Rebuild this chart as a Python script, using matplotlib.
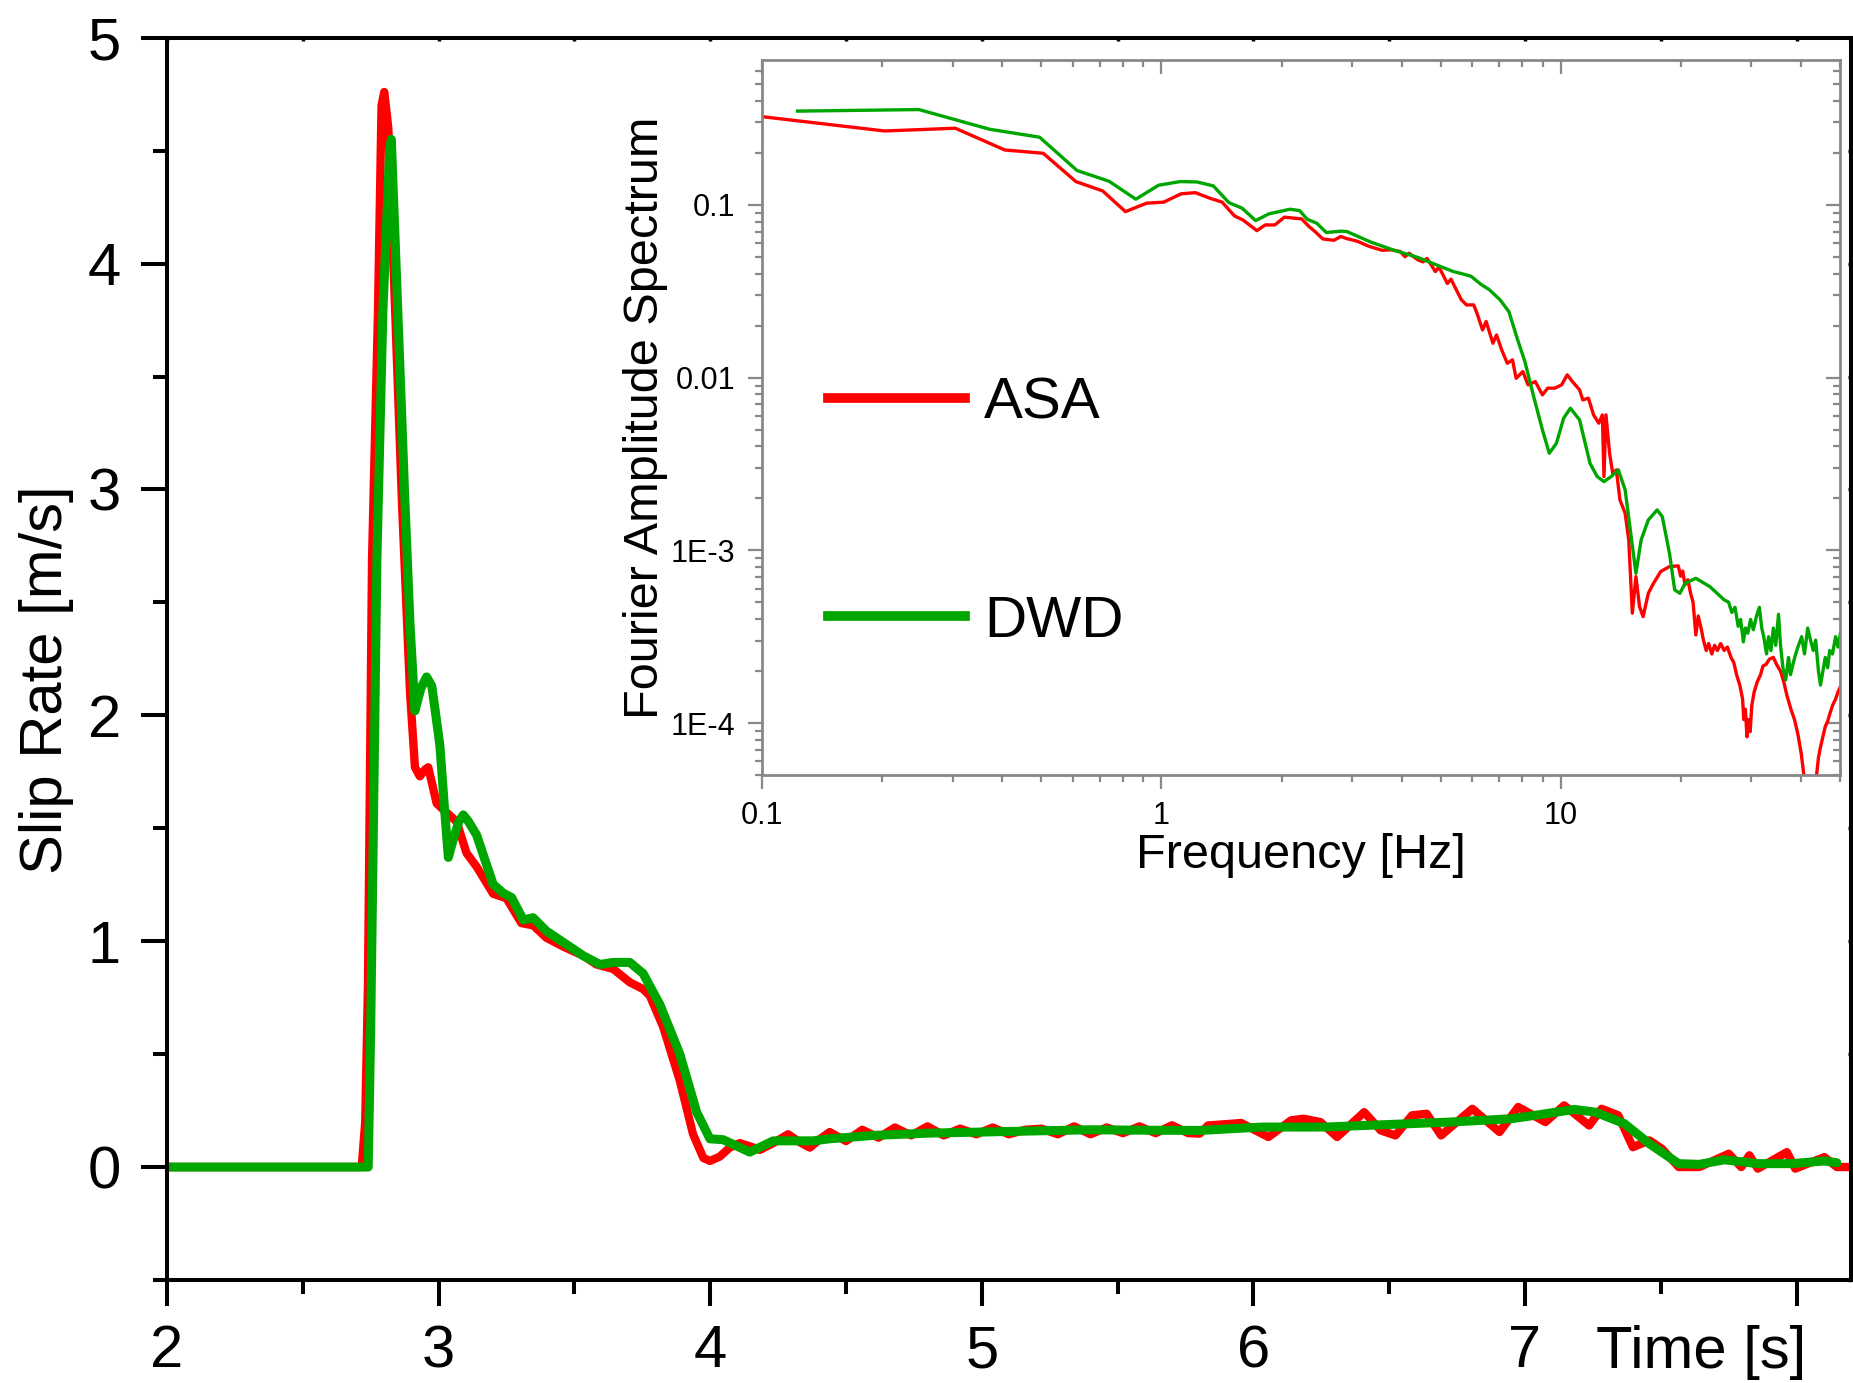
import numpy as np
import matplotlib
matplotlib.use("Agg")
import matplotlib.pyplot as plt
from matplotlib.ticker import MultipleLocator, FixedLocator, FixedFormatter, LogLocator, NullFormatter

plt.rcParams['font.family'] = ['Liberation Sans', 'DejaVu Sans']

# slip rate time histories (time [s], slip rate [m/s])
asa_t = [2.0, 2.717, 2.73, 2.74, 2.755, 2.777, 2.79, 2.80, 2.815, 2.84, 2.865, 2.895,
         2.913, 2.931, 2.95, 2.962, 2.993, 3.029, 3.066, 3.103, 3.14, 3.201, 3.25, 3.305,
         3.348, 3.397, 3.459, 3.532, 3.581, 3.643, 3.704, 3.753, 3.778, 3.827, 3.888,
         3.937, 3.975, 3.999, 4.035, 4.072, 4.109, 4.15, 4.183, 4.232, 4.287, 4.33, 4.367,
         4.40, 4.44, 4.50, 4.56, 4.62, 4.68, 4.74, 4.80, 4.86, 4.92, 4.98, 5.04, 5.10,
         5.16, 5.22, 5.28, 5.34, 5.40, 5.46, 5.52, 5.58, 5.64, 5.70, 5.76, 5.802, 5.833,
         5.955, 6.055, 6.139, 6.185, 6.247, 6.308, 6.408, 6.469, 6.523, 6.584, 6.638,
         6.691, 6.806, 6.906, 6.975, 7.075, 7.144, 7.236, 7.282, 7.343, 7.397, 7.458,
         7.504, 7.566, 7.642, 7.75, 7.796, 7.826, 7.857, 7.964, 7.995, 8.102, 8.148, 8.206]
asa_v = [0.0, 0.0, 0.2, 0.8, 2.69, 3.79, 4.7, 4.76, 4.6, 3.8, 2.95, 2.1,
         1.77, 1.73, 1.76, 1.77, 1.61, 1.57, 1.53, 1.39, 1.33, 1.21, 1.19, 1.08,
         1.07, 1.015, 0.976, 0.936, 0.897, 0.877, 0.818, 0.788, 0.758, 0.62, 0.383,
         0.145, 0.04, 0.027, 0.046, 0.086, 0.106, 0.09, 0.076, 0.106, 0.145, 0.11, 0.086,
         0.12, 0.155, 0.115, 0.165, 0.13, 0.175, 0.14, 0.18, 0.14, 0.17, 0.145, 0.175, 0.145,
         0.165, 0.17, 0.145, 0.18, 0.145, 0.175, 0.15, 0.18, 0.15, 0.185, 0.15, 0.148, 0.184,
         0.195, 0.133, 0.207, 0.214, 0.199, 0.133, 0.243, 0.162, 0.140, 0.229, 0.236,
         0.140, 0.258, 0.155, 0.266, 0.199, 0.273, 0.184, 0.258, 0.229, 0.088, 0.118,
         0.081, 0.0, 0.0, 0.059, 0.0, 0.052, -0.007, 0.066, -0.007, 0.044, 0.0, 0.0]

dwd_t = [2.0, 2.741, 2.75, 2.76, 2.773, 2.795, 2.82, 2.826, 2.85, 2.876, 2.895, 2.913,
         2.935, 2.956, 2.975, 2.99, 3.005, 3.023, 3.036, 3.054, 3.075, 3.091, 3.11, 3.14,
         3.201, 3.238, 3.269, 3.312, 3.348, 3.397, 3.459, 3.532, 3.594, 3.643, 3.704,
         3.753, 3.815, 3.888, 3.95, 3.999, 4.048, 4.146, 4.232, 4.379, 4.44, 4.6, 4.8,
         5.0, 5.2, 5.4, 5.6, 5.802, 6.032, 6.262, 6.492, 6.722, 6.952, 7.182, 7.259,
         7.366, 7.458, 7.566, 7.642, 7.734, 7.857, 7.98, 8.102, 8.148]
dwd_v = [0.0, 0.0, 0.6, 1.5, 2.69, 3.79, 4.5, 4.55, 3.79, 2.95, 2.4, 2.02,
         2.12, 2.17, 2.13, 2.0, 1.865, 1.569, 1.371, 1.45, 1.53, 1.559, 1.53, 1.47,
         1.252, 1.213, 1.193, 1.094, 1.104, 1.045, 0.995, 0.936, 0.897, 0.906, 0.906,
         0.857, 0.719, 0.501, 0.244, 0.125, 0.121, 0.066, 0.116, 0.116, 0.125, 0.14, 0.15,
         0.155, 0.16, 0.165, 0.163, 0.162, 0.177, 0.177, 0.188, 0.199, 0.214, 0.255, 0.243,
         0.192, 0.103, 0.015, 0.012, 0.032, 0.015, 0.015, 0.027, 0.019]

# Fourier amplitude spectra, log10(frequency [Hz]) and log10(amplitude)
asa_logf = [-1.0, -0.693, -0.516, -0.392, -0.296, -0.214, -0.147, -0.09, -0.037, 0.006,
            0.049, 0.085, 0.121, 0.152, 0.183, 0.204, 0.239, 0.26, 0.284, 0.308, 0.351,
            0.37, 0.385, 0.404, 0.432, 0.449, 0.464, 0.49, 0.52, 0.553, 0.575, 0.598,
            0.61, 0.62, 0.642, 0.655, 0.665, 0.686, 0.695, 0.716, 0.725, 0.74, 0.751,
            0.764, 0.782, 0.79, 0.804, 0.813, 0.83, 0.839, 0.852, 0.866, 0.879, 0.888,
            0.905, 0.918, 0.936, 0.954, 0.967, 0.985, 1.002, 1.016, 1.029, 1.047, 1.055,
            1.069, 1.082, 1.095, 1.104, 1.108, 1.113, 1.122, 1.13, 1.139, 1.148, 1.161,
            1.17, 1.179, 1.188, 1.197, 1.206, 1.219, 1.232, 1.25, 1.272, 1.294, 1.300,
            1.305, 1.311, 1.318, 1.325, 1.331, 1.338, 1.344, 1.351, 1.357, 1.364, 1.370,
            1.378, 1.385, 1.392, 1.400, 1.409, 1.417, 1.426, 1.433, 1.440, 1.448, 1.455,
            1.458, 1.462, 1.466, 1.470, 1.474, 1.478, 1.484, 1.492, 1.500, 1.506, 1.514,
            1.522, 1.532, 1.540, 1.550, 1.558, 1.566, 1.576, 1.585, 1.594, 1.602, 1.611,
            1.638, 1.645, 1.650, 1.656, 1.662, 1.668, 1.673, 1.680, 1.688, 1.694, 1.700]
asa_loga = [-0.489, -0.572, -0.556, -0.682, -0.701, -0.865, -0.919, -1.039, -0.99, -0.984,
            -0.936, -0.929, -0.961, -0.984, -1.064, -1.087, -1.149, -1.116, -1.116, -1.071,
            -1.081, -1.126, -1.155, -1.197, -1.205, -1.183, -1.195, -1.21, -1.24, -1.263,
            -1.26, -1.27, -1.30, -1.28, -1.318, -1.33, -1.31, -1.386, -1.36, -1.455, -1.43,
            -1.50, -1.55, -1.579, -1.579, -1.627, -1.724, -1.675, -1.801, -1.753, -1.84,
            -1.917, -1.897, -2.004, -1.965, -2.042, -2.023, -2.1, -2.061, -2.061, -2.042,
            -1.984, -2.023, -2.071, -2.129, -2.119, -2.216, -2.264, -2.216, -2.573, -2.216,
            -2.438, -2.554, -2.534, -2.708, -2.785, -2.94, -3.364, -3.152, -3.326, -3.384,
            -3.249, -3.191, -3.123, -3.094, -3.09, -3.15, -3.12, -3.20, -3.17, -3.25, -3.30,
            -3.49, -3.38, -3.45, -3.52, -3.58, -3.54, -3.60, -3.55, -3.58, -3.54, -3.58,
            -3.56, -3.62, -3.65, -3.72, -3.78, -3.86, -3.98, -3.92, -4.08, -3.98, -4.05,
            -3.90, -3.82, -3.76, -3.72, -3.67, -3.66, -3.63, -3.62, -3.66, -3.70, -3.76,
            -3.84, -3.92, -3.98, -4.07, -4.18, -4.35, -4.35, -4.20, -4.14, -4.08, -4.02,
            -3.99, -3.95, -3.90, -3.86, -3.82, -3.79]

dwd_logf = [-0.911, -0.607, -0.43, -0.305, -0.211, -0.131, -0.064, -0.007, 0.047, 0.089,
            0.13, 0.169, 0.202, 0.236, 0.269, 0.322, 0.346, 0.365, 0.389, 0.413, 0.449,
            0.464, 0.524, 0.583, 0.642, 0.686, 0.731, 0.755, 0.775, 0.80, 0.82, 0.848,
            0.87, 0.892, 0.91, 0.932, 0.954, 0.971, 0.989, 1.007, 1.024, 1.047, 1.073,
            1.091, 1.108, 1.126, 1.144, 1.161, 1.175, 1.188, 1.201, 1.219, 1.241, 1.254,
            1.272, 1.285, 1.298, 1.311, 1.338, 1.373, 1.409, 1.420, 1.428, 1.436, 1.444,
            1.450, 1.457, 1.462, 1.468, 1.475, 1.482, 1.490, 1.497, 1.503, 1.508, 1.515,
            1.520, 1.526, 1.532, 1.538, 1.545, 1.550, 1.556, 1.563, 1.570, 1.575, 1.581,
            1.588, 1.595, 1.603, 1.610, 1.618, 1.625, 1.632, 1.638, 1.645, 1.650, 1.656,
            1.662, 1.668, 1.673, 1.680, 1.688, 1.694, 1.700]
dwd_loga = [-0.457, -0.448, -0.562, -0.608, -0.801, -0.863, -0.967, -0.886, -0.865, -0.867,
            -0.89, -0.987, -1.019, -1.091, -1.052, -1.025, -1.033, -1.083, -1.106, -1.16,
            -1.152, -1.154, -1.215, -1.263, -1.304, -1.345, -1.386, -1.40, -1.413, -1.46,
            -1.489, -1.55, -1.618, -1.782, -1.907, -2.11, -2.303, -2.438, -2.38, -2.235,
            -2.177, -2.245, -2.496, -2.573, -2.602, -2.573, -2.534, -2.65, -2.901, -3.133,
            -2.94, -2.824, -2.766, -2.805, -3.017, -3.229, -3.249, -3.191, -3.162, -3.21,
            -3.287, -3.30, -3.36, -3.33, -3.44, -3.40, -3.53, -3.45, -3.48, -3.40, -3.46,
            -3.38, -3.33, -3.45, -3.50, -3.60, -3.50, -3.58, -3.45, -3.55, -3.37, -3.55,
            -3.68, -3.75, -3.62, -3.72, -3.66, -3.60, -3.55, -3.50, -3.60, -3.45, -3.52,
            -3.58, -3.52, -3.70, -3.78, -3.70, -3.62, -3.68, -3.58, -3.60, -3.50, -3.56,
            -3.48]

x_labels = ['2', '3', '4', '5', '6', '7', '']
inset_x_labels = ['0.1', '1', '10']
inset_y_vals = [1e-4, 1e-3, 1e-2, 1e-1]
inset_y_labels = ['1E-4', '1E-3', '0.01', '0.1']

red = '#ff0000'
green = '#00a600'
grey = '#888888'

fig = plt.figure(figsize=(18.53, 13.83), dpi=100)

# ---- main slip-rate panel ----
ax = fig.add_axes([0.0901, 0.0745, 0.9088, 0.8982])
ax.plot(asa_t, asa_v, color=red, lw=6.0, solid_joinstyle='round', solid_capstyle='round')
ax.plot(dwd_t, dwd_v, color=green, lw=6.5, solid_joinstyle='round', solid_capstyle='round')
ax.set_xlim(2, 8.2)
ax.set_ylim(-0.5, 5)
ax.xaxis.set_major_locator(FixedLocator([2, 3, 4, 5, 6, 7, 8]))
ax.xaxis.set_major_formatter(FixedFormatter(x_labels))
ax.xaxis.set_minor_locator(MultipleLocator(0.5))
ax.yaxis.set_major_locator(MultipleLocator(1))
ax.yaxis.set_minor_locator(MultipleLocator(0.5))
for s in ax.spines.values():
    s.set_linewidth(2.9)
ax.tick_params(which='major', direction='out', length=19, width=2.9, labelsize=43, pad=13)
ax.tick_params(which='minor', direction='out', length=10, width=2.9)
ax.tick_params(axis='y', pad=14)
ax.set_ylabel('Slip Rate [m/s]', fontsize=43)
ax.yaxis.set_label_coords(-0.055, 0.483)
ax.text(7.65, -0.0709, 'Time [s]', transform=ax.get_xaxis_transform(),
        ha='center', va='baseline', fontsize=43)

# mirrored tiny ticks on top and right
top = ax.secondary_xaxis('top')
top.xaxis.set_major_locator(MultipleLocator(0.5))
top.tick_params(direction='in', length=2, width=2.5, labeltop=False)
right = ax.secondary_yaxis('right')
right.yaxis.set_major_locator(MultipleLocator(0.5))
right.tick_params(direction='in', length=2, width=2.5, labelright=False)

# ---- inset: Fourier amplitude spectrum ----
ins = fig.add_axes([0.4112, 0.4396, 0.5818, 0.517])
ins.plot(10 ** np.array(asa_logf), 10 ** np.array(asa_loga), color=red, lw=2.4, label='ASA')
ins.plot(10 ** np.array(dwd_logf), 10 ** np.array(dwd_loga), color=green, lw=2.4, label='DWD')
ins.set_xscale('log')
ins.set_yscale('log')
ins.set_xlim(0.1, 50)
ins.set_ylim(5e-5, 0.69)
ins.xaxis.set_major_locator(FixedLocator([0.1, 1, 10]))
ins.xaxis.set_major_formatter(FixedFormatter(inset_x_labels))
ins.xaxis.set_minor_locator(LogLocator(base=10, subs=np.arange(2, 10), numticks=20))
ins.xaxis.set_minor_formatter(NullFormatter())
ins.yaxis.set_major_locator(FixedLocator(inset_y_vals))
ins.yaxis.set_major_formatter(FixedFormatter(inset_y_labels))
ins.yaxis.set_minor_locator(LogLocator(base=10, subs=np.arange(2, 10), numticks=20))
ins.yaxis.set_minor_formatter(NullFormatter())
for s in ins.spines.values():
    s.set_linewidth(2.0)
    s.set_color(grey)
ins.tick_params(which='major', direction='out', length=10, width=1.6, color=grey,
                labelsize=22, pad=9)
ins.tick_params(which='minor', direction='out', length=5, width=1.6, color=grey)
ins.set_xlabel('Frequency [Hz]', fontsize=35)
ins.xaxis.set_label_coords(0.5, -0.081)
ins.set_ylabel('Fourier Amplitude Spectrum', fontsize=35)
ins.yaxis.set_label_coords(-0.087, 0.5)

itop = ins.secondary_xaxis('top')
itop.xaxis.set_major_locator(FixedLocator([0.1, 1, 10]))
itop.xaxis.set_minor_locator(LogLocator(base=10, subs=np.arange(2, 10), numticks=20))
itop.tick_params(which='major', direction='in', length=10, width=1.6, color=grey, labeltop=False)
itop.tick_params(which='minor', direction='in', length=5, width=1.6, color=grey, labeltop=False)
itop.spines['top'].set_visible(False)
iright = ins.secondary_yaxis('right')
iright.yaxis.set_major_locator(FixedLocator(inset_y_vals))
iright.yaxis.set_minor_locator(LogLocator(base=10, subs=np.arange(2, 10), numticks=20))
iright.tick_params(which='major', direction='in', length=10, width=1.6, color=grey, labelright=False)
iright.tick_params(which='minor', direction='in', length=5, width=1.6, color=grey, labelright=False)
iright.spines['right'].set_visible(False)

leg = ins.legend(loc='upper left', bbox_to_anchor=(0.061, 0.557), frameon=False,
                 fontsize=42, handlelength=2.36, handletextpad=0.32, labelspacing=2.81,
                 borderpad=0, borderaxespad=0)
for h in leg.get_lines():
    h.set_linewidth(7)

fig.savefig('out.png', dpi=100)
